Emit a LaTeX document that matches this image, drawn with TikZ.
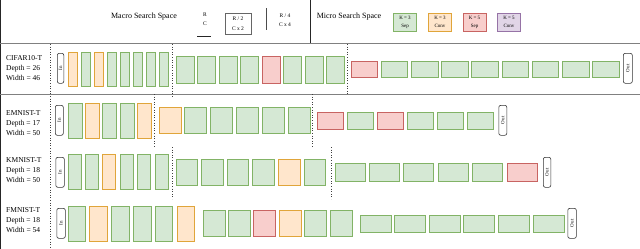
\documentclass[tikz,border=0pt]{standalone}
\usepackage{fontspec}
\setmainfont{Liberation Serif}
\definecolor{gfill}{HTML}{D5E8D4}\definecolor{gdraw}{HTML}{82B366}
\definecolor{ofill}{HTML}{FFE6CC}\definecolor{odraw}{HTML}{E0A53A}
\definecolor{rfill}{HTML}{F8CECC}\definecolor{rdraw}{HTML}{C86462}
\definecolor{pfill}{HTML}{E1D5E7}\definecolor{pdraw}{HTML}{9673A6}
\definecolor{sepline}{HTML}{808080}
\tikzset{
  blkbase/.style={inner sep=0, outer sep=0, anchor=north west, line width=0.7pt},
  gb/.style={blkbase, draw=gdraw, fill=gfill},
  ob/.style={blkbase, draw=odraw, fill=ofill},
  rb/.style={blkbase, draw=rdraw, fill=rfill},
  pb/.style={blkbase, draw=pdraw, fill=pfill},
  iobox/.style={draw=black!80, rounded corners=2pt, line width=0.6pt, inner sep=0, anchor=north west},
  iolabel/.style={rotate=90, font=\fontsize{5}{6}\selectfont, inner sep=0},
  rowlabel/.style={anchor=west, align=left, font=\fontsize{7.5}{10}\selectfont, inner sep=0},
  hdrtxt/.style={font=\fontsize{8}{10}\selectfont, inner sep=0},
  smalltxt/.style={font=\fontsize{5.5}{9.5}\selectfont, align=center, inner sep=0},
  legbox/.style={font=\fontsize{5}{8}\selectfont, align=center, inner sep=0, minimum width=23, minimum height=18, line width=0.7pt},
  stagesep/.style={dotted, line width=0.6pt, black!75},
  rowsep/.style={sepline, line width=1pt}
}
\begin{document}
\begin{tikzpicture}[x=1pt,y=-1pt]
\useasboundingbox (0,0) rectangle (640,249);
% frame lines
\draw[black!85, line width=0.8pt] (0.4,0) -- (0.4,249);
\draw[black!85, line width=0.8pt] (310,0) -- (310,43);
\draw[rowsep] (0,43.5) -- (640,43.5);
\draw[rowsep] (0,94) -- (640,94);
% header: macro
\node[hdrtxt] (macro) at (144,17) {Macro Search Space};
\node[smalltxt] (m1) at (205,19) {R\\C};
\coordinate (ul1) at (197,36); \coordinate (ul2) at (211,36);
\draw[black!85, line width=0.6pt] (ul1) -- (ul2);
\node[smalltxt, draw=black!60, line width=1pt, minimum width=26, minimum height=21] (m2) at (238,23.5) {R / 2\\C x 2};
\coordinate (vl1) at (266.5,8); \coordinate (vl2) at (266.5,30);
\draw[black!70, line width=0.5pt] (vl1) -- (vl2);
\node[smalltxt] (m3) at (285,20) {R / 4\\C x 4};
% header: micro
\node[hdrtxt] (micro) at (349,17) {Micro Search Space};
\node[legbox, draw=gdraw, fill=gfill] (k3s) at (405,22) {K = 3\\Sep};
\node[legbox, draw=odraw, fill=ofill] (k3c) at (440,22) {K = 3\\Conv};
\node[legbox, draw=rdraw, fill=rfill] (k5s) at (474.5,22) {K = 5\\Sep};
\node[legbox, draw=pdraw, fill=pfill] (k5c) at (509,22) {K = 5\\Conv};
% stage separators
\draw[stagesep] (50,44) -- (50,249);
\draw[stagesep] (172,44) -- (172,97);
\draw[stagesep] (347,44) -- (347,94);
\draw[stagesep] (154,94) -- (154,147);
\draw[stagesep] (312,94) -- (312,147);
\draw[stagesep] (172,147) -- (172,199);
\draw[stagesep] (331,147) -- (331,199);
% ---------- Row 1: CIFAR10-T ----------
\node[rowlabel] (lab1) at (6,68) {CIFAR10-T\\Depth = 26\\Width = 46};
\node[iobox, minimum width=6.5, minimum height=30] (in1) at (57,53) {};
\node[iolabel] at (in1.center) {In};
\foreach \xx/\cc [count=\i] in {68/ob,81/gb,94/ob,107/gb,120/gb,133/gb,146/gb,159/gb}
  \node[\cc, minimum width=9.5, minimum height=34] (ra\i) at (\xx,52) {};
\foreach \xx/\cc [count=\i] in {176/gb,197.5/gb,219/gb,240.5/gb,262/rb,283.5/gb,305/gb,326.5/gb}
  \node[\cc, minimum width=18, minimum height=27] (rb\i) at (\xx,56) {};
\foreach \xx/\cc [count=\i] in {351/rb,381.2/gb,411.4/gb,441.6/gb,471.8/gb,502/gb,532.2/gb,562.4/gb,592.6/gb}
  \node[\cc, minimum width=26.5, minimum height=16] (rc\i) at (\xx,61) {};
\node[iobox, minimum width=9, minimum height=30] (out1) at (623,53) {};
\node[iolabel] at (out1.center) {Out};
% ---------- Row 2: EMNIST-T ----------
\node[rowlabel] (lab2) at (6,123) {EMNIST-T\\Depth = 17\\Width = 50};
\node[iobox, minimum width=8, minimum height=30] (in2) at (55,105) {};
\node[iolabel] at (in2.center) {In};
\foreach \xx/\cc [count=\i] in {68/gb,85.3/ob,102.6/gb,119.9/gb,137.2/ob}
  \node[\cc, minimum width=14, minimum height=35] (sa\i) at (\xx,103) {};
\foreach \xx/\cc [count=\i] in {159/ob,184.8/gb,210.6/gb,236.4/gb,262.2/gb,288/gb}
  \node[\cc, minimum width=22, minimum height=26] (sb\i) at (\xx,107) {};
\foreach \xx/\cc [count=\i] in {317.5/rb,347.5/gb,377.5/rb,407.5/gb,437.5/gb,467.5/gb}
  \node[\cc, minimum width=26, minimum height=17] (sc\i) at (\xx,112) {};
\node[iobox, minimum width=8, minimum height=30] (out2) at (498.5,105) {};
\node[iolabel] at (out2.center) {Out};
% ---------- Row 3: KMNIST-T ----------
\node[rowlabel] (lab3) at (6,170) {KMNIST-T\\Depth = 18\\Width = 50};
\node[iobox, minimum width=8.5, minimum height=30] (in3) at (55.5,157) {};
\node[iolabel] at (in3.center) {In};
\foreach \xx/\cc [count=\i] in {68/gb,85.4/gb,102.8/ob,120.2/gb,137.6/gb,155/gb}
  \node[\cc, minimum width=13, minimum height=35] (ta\i) at (\xx,154) {};
\foreach \xx/\cc [count=\i] in {176/gb,201.6/gb,227.2/gb,252.8/gb,278.4/ob,304/gb}
  \node[\cc, minimum width=21.5, minimum height=26] (tb\i) at (\xx,159) {};
\foreach \xx/\cc [count=\i] in {335/gb,369.4/gb,403.8/gb,438.2/gb,472.6/gb,507/rb}
  \node[\cc, minimum width=30, minimum height=18] (tc\i) at (\xx,163) {};
\node[iobox, minimum width=7.5, minimum height=30] (out3) at (543,157) {};
\node[iolabel] at (out3.center) {Out};
% ---------- Row 4: FMNIST-T ----------
\node[rowlabel] (lab4) at (6,220) {FMNIST-T\\Depth = 18\\Width = 54};
\node[iobox, minimum width=8.5, minimum height=30] (in4) at (56.5,208) {};
\node[iolabel] at (in4.center) {In};
\foreach \xx/\cc [count=\i] in {68/gb,89.8/ob,111.6/gb,133.4/gb,155.2/gb,177/ob}
  \node[\cc, minimum width=17.5, minimum height=35] (ua\i) at (\xx,206) {};
\foreach \xx/\cc [count=\i] in {203/gb,228.4/gb,253.8/rb,279.2/ob,304.6/gb,330/gb}
  \node[\cc, minimum width=22, minimum height=26] (ub\i) at (\xx,210) {};
\foreach \xx/\cc [count=\i] in {360/gb,394.6/gb,429.2/gb,463.8/gb,498.4/gb,533/gb}
  \node[\cc, minimum width=31, minimum height=17] (uc\i) at (\xx,215) {};
\node[iobox, minimum width=8.5, minimum height=30] (out4) at (567.5,208) {};
\node[iolabel] at (out4.center) {Out};
\end{tikzpicture}
\end{document}
